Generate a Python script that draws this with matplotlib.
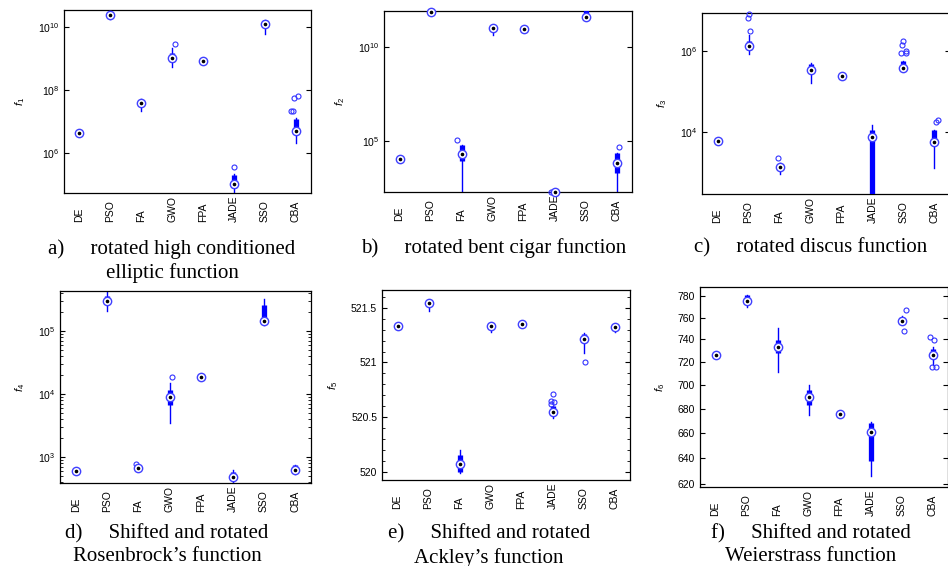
import matplotlib
matplotlib.use("Agg")
import matplotlib.pyplot as plt
from matplotlib.transforms import offset_copy
from matplotlib.ticker import FixedLocator, NullLocator, NullFormatter, LogLocator, MultipleLocator, FixedFormatter

plt.rcParams['font.family'] = 'Liberation Sans'
plt.rcParams['mathtext.fontset'] = 'custom'
plt.rcParams['mathtext.rm'] = 'Liberation Sans'
plt.rcParams['mathtext.it'] = 'Liberation Sans:italic'

algos = ["DE", "PSO", "FA", "GWO", "FPA", "JADE", "SSO", "CBA"]

# f1 - rotated high conditioned elliptic
f1_med = [4.3e6, 2.4e10, 3.8e7, 1.07e9, 8.3e8, 1.1e5, 1.2e10, 5.2e6]
f1_q1 = [4.3e6, 2.35e10, 3.6e7, 7.8e8, 8.3e8, 7.8e4, 1.2e10, 5.2e6]
f1_q3 = [4.3e6, 2.45e10, 5.0e7, 1.5e9, 8.3e8, 2.1e5, 1.7e10, 1.2e7]
f1_lo = [4.3e6, 1.8e10, 2.2e7, 5.2e8, 8.3e8, 5.0e4, 5.8e9, 2.1e6]
f1_hi = [4.3e6, 2.5e10, 5.4e7, 2.2e9, 8.3e8, 2.3e5, 1.7e10, 1.3e7]
f1_out = [[], [], [], [2.9e9], [], [3.6e5], [], [2.2e7, 2.2e7, 5.8e7, 6.5e7]]
f1_jit = [[], [], [], [0.09], [], [0.0], [], [-0.14, -0.08, -0.05, 0.08]]

# f2 - rotated bent cigar
f2_med = [1.1e4, 6.9e11, 1.95e4, 9.5e10, 9.1e10, 200, 3.6e11, 6.8e3]
f2_q1 = [1.1e4, 6.9e11, 8.3e3, 9.5e10, 9.1e10, 200, 4.0e11, 2.0e3]
f2_q3 = [1.1e4, 6.9e11, 6.2e4, 9.5e10, 9.1e10, 200, 9.0e11, 2.3e4]
f2_lo = [1.1e4, 6.9e11, 230, 4.0e10, 9.1e10, 200, 3.6e11, 150]
f2_hi = [1.1e4, 6.9e11, 6.2e4, 9.5e10, 9.1e10, 200, 9.0e11, 2.3e4]
f2_out = [[], [], [1.1e5], [], [], [200, 200], [], [4.8e4]]
f2_jit = [[], [], [-0.13], [], [], [-0.12, -0.05], [], [0.09]]

# f3 - rotated discus
f3_med = [6.2e3, 1.29e6, 1.38e3, 3.4e5, 2.45e5, 7.6e3, 3.7e5, 5.6e3]
f3_q1 = [6.2e3, 1.05e6, 1.2e3, 3.4e5, 2.45e5, 200, 3.7e5, 5.6e3]
f3_q3 = [6.2e3, 1.78e6, 1.58e3, 4.8e5, 2.45e5, 1.1e4, 5.6e5, 1.15e4]
f3_lo = [6.2e3, 8.5e5, 955, 1.66e5, 2.45e5, 200, 3.7e5, 1.29e3]
f3_hi = [6.2e3, 2.45e6, 1.74e3, 5.1e5, 2.45e5, 1.5e4, 5.6e5, 1.15e4]
f3_out = [[], [3.0e6, 6.3e6, 8.1e6], [2.3e3], [], [], [], [8.7e5, 8.7e5, 1.0e6, 1.41e6, 1.7e6], [1.8e4, 2.0e4]]
f3_jit = [[], [0.04, -0.03, 0.02], [-0.04], [], [], [], [-0.08, 0.07, 0.07, -0.06, -0.02], [0.06, 0.1]]

# f4 - shifted and rotated Rosenbrock
f4_med = [603, 2.95e5, 676, 9.1e3, 1.86e4, 490, 1.45e5, 630]
f4_q1 = [603, 2.95e5, 660, 6.8e3, 1.86e4, 490, 1.45e5, 630]
f4_q3 = [603, 3.6e5, 700, 1.17e4, 1.86e4, 575, 2.6e5, 740]
f4_lo = [603, 2.1e5, 640, 3.5e3, 1.86e4, 400, 1.23e5, 540]
f4_hi = [603, 5.0e5, 720, 1.5e4, 1.86e4, 630, 3.2e5, 760]
f4_out = [[], [], [776], [1.86e4], [], [], [], []]
f4_jit = [[], [], [-0.07], [0.06], [], [], [], []]

# f5 - shifted and rotated Ackley
f5_med = [521.33, 521.54, 520.08, 521.33, 521.35, 520.55, 521.21, 521.32]
f5_q1 = [521.33, 521.54, 520.0, 521.31, 521.35, 520.55, 521.21, 521.30]
f5_q3 = [521.33, 521.57, 520.16, 521.34, 521.35, 520.60, 521.26, 521.33]
f5_lo = [521.33, 521.47, 519.99, 521.28, 521.35, 520.49, 521.09, 521.28]
f5_hi = [521.33, 521.57, 520.20, 521.34, 521.35, 520.60, 521.27, 521.33]
f5_out = [[], [], [], [], [], [520.62, 520.65, 520.64, 520.71], [521.0], []]
f5_jit = [[], [], [], [], [], [-0.06, -0.06, 0.04, 0.0], [0.06], []]

# f6 - shifted and rotated Weierstrass
f6_med = [726, 775.2, 733.6, 689.6, 675.4, 660.7, 756.7, 726]
f6_q1 = [726, 775, 727.6, 683.1, 675.4, 638, 755, 724.3]
f6_q3 = [726, 781.5, 739.6, 695.8, 675.4, 668, 760.7, 731.6]
f6_lo = [726, 770.3, 710.8, 674.8, 675.4, 626.3, 754, 717]
f6_hi = [726, 781.5, 750.4, 700, 675.4, 669, 762, 733]
f6_out = [[], [], [], [], [], [], [767.4, 747.4], [741.9, 739.2, 715.4, 715.4]]
f6_jit = [[], [], [], [], [], [], [0.13, 0.08], [-0.07, 0.06, -0.03, 0.11]]

captions = [
    "a)     rotated high conditioned\nelliptic function",
    "b)     rotated bent cigar function",
    "c)     rotated discus function",
    "d)     Shifted and rotated\nRosenbrock\u2019s function",
    "e)     Shifted and rotated\nAckley\u2019s function",
    "f)     Shifted and rotated\nWeierstrass function",
]

W, H = 948, 566
fig = plt.figure(figsize=(W / 100, H / 100), dpi=100)

# axes boxes in pixels: left, top, right, bottom
boxes = [(64, 10, 311, 193), (384, 11, 632, 192), (702, 13, 950, 194),
         (60, 291, 311, 483), (382, 290, 630, 480), (700, 287, 948, 487)]
# caption anchor = centre x, top of first line
caption_xy = [(172, 239), (494, 238), (811, 238), (167, 524), (489, 524), (811, 524)]

panels = [
    (f1_med, f1_q1, f1_q3, f1_lo, f1_hi, f1_out, f1_jit),
    (f2_med, f2_q1, f2_q3, f2_lo, f2_hi, f2_out, f2_jit),
    (f3_med, f3_q1, f3_q3, f3_lo, f3_hi, f3_out, f3_jit),
    (f4_med, f4_q1, f4_q3, f4_lo, f4_hi, f4_out, f4_jit),
    (f5_med, f5_q1, f5_q3, f5_lo, f5_hi, f5_out, f5_jit),
    (f6_med, f6_q1, f6_q3, f6_lo, f6_hi, f6_out, f6_jit),
]
ylims = [(5.6e4, 3.4e10), (195, 7.9e11), (302, 8.5e6), (390, 4.3e5), (519.93, 521.66), (618, 789)]
blue = (0, 0, 1)


def draw_boxes(ax, med, q1, q3, lo, hi, out, jit):
    for i in range(len(algos)):
        x = i + 1
        ax.plot([x, x], [lo[i], hi[i]], color=blue, lw=1.0, zorder=2)
        ax.plot([x, x], [q1[i], q3[i]], color=blue, lw=3.8, solid_capstyle='butt', zorder=3)
        for v, dx in zip(out[i], jit[i]):
            ax.plot(x + dx, v, 'o', mfc='none', mec=(0.2, 0.2, 1), ms=3.6, mew=0.8, zorder=4, clip_on=False)
        ax.plot(x, med[i], 'o', mfc='white', mec=(0.25, 0.25, 1), ms=6, mew=1.0, zorder=5, clip_on=False)
        ax.plot(x, med[i], 'o', color='black', ms=1.6, zorder=6, clip_on=False)


for k in range(6):
    l, t, r, b = boxes[k]
    ax = fig.add_axes([l / W, 1 - b / H, (r - l) / W, (b - t) / H])
    if k != 4:
        ax.set_yscale('log')
    draw_boxes(ax, *panels[k])
    ax.set_xlim(0.5, 8.5)
    ax.set_ylim(*ylims[k])

    # category names: rotated, all starting at the same distance below the axes
    ax.set_xticks([])
    lab_tr = offset_copy(ax.get_xaxis_transform(), fig=fig, y=-29, units='dots')
    for i, name in enumerate(algos):
        ax.text(i + 1, 0, name, rotation=90, fontsize=7.5, ha='center', va='bottom',
                transform=lab_tr)

    ax.tick_params(axis='y', which='both', direction='in', left=True, right=True, labelsize=7.5)
    ax.tick_params(axis='y', which='major', length=3.5)
    ax.tick_params(axis='y', which='minor', length=2)
    for s in ax.spines.values():
        s.set_linewidth(0.9)
    ax.set_ylabel("$f_{%d}$" % (k + 1), fontsize=8, labelpad=8)

    if k == 0:
        ax.yaxis.set_major_locator(FixedLocator([1e6, 1e8, 1e10]))
        ax.yaxis.set_minor_locator(NullLocator())
    elif k == 1:
        ax.yaxis.set_major_locator(FixedLocator([1e5, 1e10]))
        ax.yaxis.set_minor_locator(NullLocator())
    elif k == 2:
        ax.yaxis.set_major_locator(FixedLocator([1e4, 1e6]))
        ax.yaxis.set_minor_locator(NullLocator())
    elif k == 3:
        ax.yaxis.set_major_locator(FixedLocator([1e3, 1e4, 1e5]))
        ax.yaxis.set_minor_locator(LogLocator(base=10, subs=range(2, 10)))
        ax.yaxis.set_minor_formatter(NullFormatter())
    elif k == 4:
        ax.yaxis.set_minor_locator(MultipleLocator(0.1))
        ax.set_yticks([520, 520.5, 521, 521.5])
        ax.set_yticklabels(["520", "520.5", "521", "521.5"])
    else:
        f6_ticks = list(range(620, 781, 20))
        ax.yaxis.set_major_locator(FixedLocator(f6_ticks))
        ax.yaxis.set_minor_locator(NullLocator())
        ax.yaxis.set_major_formatter(FixedFormatter([str(v) for v in f6_ticks]))
        ax.yaxis.set_minor_formatter(NullFormatter())

    cx, cy = caption_xy[k]
    fig.text(cx / W, 1 - cy / H, captions[k], family='Liberation Serif', fontsize=15,
             ha='center', va='top', linespacing=1.28)

fig.savefig("out.png", dpi=100)
